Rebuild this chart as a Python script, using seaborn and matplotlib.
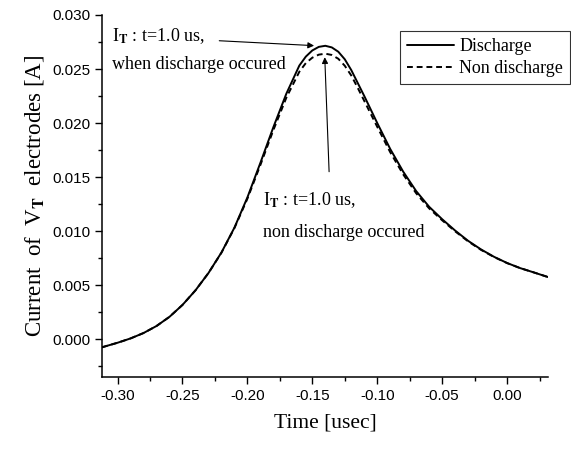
import matplotlib
matplotlib.use('Agg')
import matplotlib.pyplot as plt
import pandas as pd
import seaborn as sns
from matplotlib.ticker import MultipleLocator, FormatStrFormatter

sns.set_style('ticks', {'axes.edgecolor': 'black', 'xtick.color': 'black',
                        'ytick.color': 'black', 'text.color': 'black',
                        'axes.labelcolor': 'black'})
plt.rcParams['font.family'] = ['Liberation Serif', 'DejaVu Serif']
plt.rcParams['mathtext.fontset'] = 'stix'

# time axis [usec]
time = [-0.312, -0.30, -0.29, -0.28, -0.27, -0.26, -0.25, -0.24, -0.23, -0.22,
        -0.21, -0.20, -0.19, -0.18, -0.17, -0.16, -0.155, -0.15, -0.145, -0.14,
        -0.135, -0.13, -0.125, -0.12, -0.115, -0.11, -0.10, -0.09, -0.08, -0.07,
        -0.06, -0.05, -0.04, -0.03, -0.02, -0.01, 0.00, 0.01, 0.02, 0.0315]
discharge = [-0.00075, -0.00033, 0.00007, 0.00057, 0.00122, 0.00207, 0.00317, 0.00452, 0.00612, 0.00802,
             0.01032, 0.01312, 0.01632, 0.01962, 0.02272, 0.02532, 0.02615, 0.02672, 0.02705, 0.02715,
             0.02700, 0.02660, 0.02590, 0.02490, 0.02370, 0.02250, 0.02000, 0.01760, 0.01550, 0.01370,
             0.01225, 0.01110, 0.01005, 0.00910, 0.00830, 0.00762, 0.00705, 0.00658, 0.00620, 0.00575]
non_discharge = [-0.00075, -0.00033, 0.00007, 0.00057, 0.00122, 0.00207, 0.00317, 0.00452, 0.00612, 0.00800,
                 0.01028, 0.01300, 0.01612, 0.01935, 0.02235, 0.02475, 0.02555, 0.02605, 0.02633, 0.02642,
                 0.02630, 0.02595, 0.02530, 0.02440, 0.02325, 0.02205, 0.01965, 0.01730, 0.01525, 0.01350,
                 0.01210, 0.01100, 0.00998, 0.00905, 0.00826, 0.00760, 0.00704, 0.00658, 0.00620, 0.00575]

df = pd.DataFrame({'time': time * 2,
                   'current': discharge + non_discharge,
                   'case': ['Discharge'] * len(time) + ['Non discharge'] * len(time)})

fig = plt.figure(figsize=(5.71, 4.5), dpi=100)
ax = fig.add_axes([0.1786, 0.1622, 0.7811, 0.8045])
sns.lineplot(data=df, x='time', y='current', style='case', color='black',
             dashes={'Discharge': '', 'Non discharge': (3, 2)}, linewidth=1.4,
             ax=ax, legend=True)

ax.set_xlim(-0.312, 0.0315)
ax.set_ylim(-0.0035, 0.030)
ax.xaxis.set_major_locator(MultipleLocator(0.05))
ax.xaxis.set_minor_locator(MultipleLocator(0.025))
ax.yaxis.set_major_locator(MultipleLocator(0.005))
ax.yaxis.set_minor_locator(MultipleLocator(0.0025))
ax.xaxis.set_major_formatter(FormatStrFormatter('%.2f'))
ax.yaxis.set_major_formatter(FormatStrFormatter('%.3f'))
ax.tick_params(which='major', direction='out', length=5, width=1, labelsize=11, colors='black')
ax.tick_params(which='minor', direction='out', length=3, width=1, colors='black')
for lab in ax.get_xticklabels() + ax.get_yticklabels():
    lab.set_family('Liberation Sans')
sns.despine(ax=ax)
for s in ['left', 'bottom']:
    ax.spines[s].set_linewidth(1.1)

ax.set_xlabel('Time [usec]', fontsize=15.5, labelpad=8)
ax.set_ylabel(r'Current  of  V$_\mathbf{T}$  electrodes [A]', fontsize=16.5, labelpad=4)

leg = ax.legend(title=None, loc='upper right', bbox_to_anchor=(1.07, 0.98),
                fontsize=13, frameon=True, fancybox=False, edgecolor='black',
                handlelength=2.6, handletextpad=0.3, borderpad=0.4, labelspacing=0.25)
leg.get_frame().set_linewidth(0.8)

ax.text(0.022, 0.942, r'I$_\mathbf{T}$ : t=1.0 us,', transform=ax.transAxes,
        fontsize=13, va='center', ha='left')
ax.text(0.022, 0.862, 'when discharge occured', transform=ax.transAxes,
        fontsize=13, va='center', ha='left')
ax.annotate('', xy=(-0.1465, 0.02715), xytext=(-0.2238, 0.02763),
            arrowprops=dict(arrowstyle='-|>', color='black', lw=0.8, mutation_scale=9))

ax.text(0.361, 0.489, r'I$_\mathbf{T}$ : t=1.0 us,', transform=ax.transAxes,
        fontsize=13, va='center', ha='left')
ax.text(0.361, 0.400, 'non discharge occured', transform=ax.transAxes,
        fontsize=13, va='center', ha='left')
ax.annotate('', xy=(-0.1405, 0.02635), xytext=(-0.137, 0.01524),
            arrowprops=dict(arrowstyle='-|>', color='black', lw=0.8, mutation_scale=9))

fig.savefig('out.png', dpi=100)
